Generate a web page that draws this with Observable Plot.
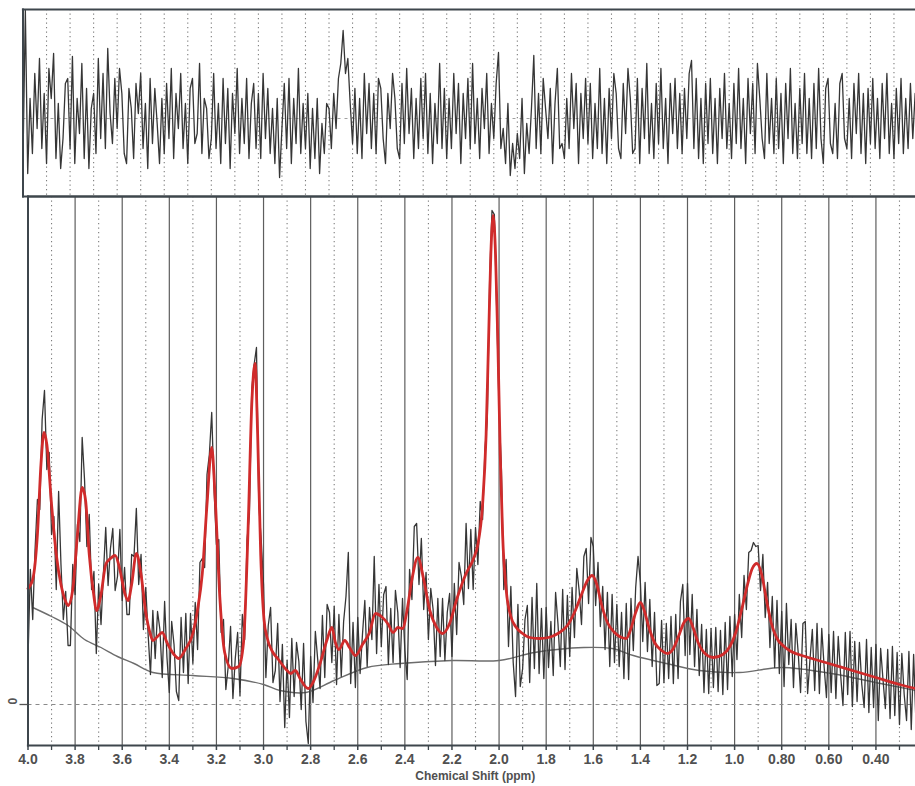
<!DOCTYPE html>
<html>
<head>
<meta charset="utf-8">
<script src="https://cdn.jsdelivr.net/npm/d3@7"></script>
<script src="https://cdn.jsdelivr.net/npm/@observablehq/plot@0.6"></script>
<style>
html, body { margin: 0; padding: 0; background: #fff; }
#chart { position: relative; width: 915px; height: 786px; overflow: hidden; font-family: "Liberation Sans", Arial, sans-serif; }
#bottomPanel, #topPanel { position: absolute; left: 0; }
#topPanel { top: 0; }
#bottomPanel { top: 196px; }
</style>
</head>
<body>
<div id="chart"><div id="bottomPanel"></div><div id="topPanel"></div></div>
<script>
// ---------- data ----------
const ppmStart = 4.0;
const ppmStep = 0.01;

const majorTicks = [4.0, 3.8, 3.6, 3.4, 3.2, 3.0, 2.8, 2.6, 2.4, 2.2, 2.0, 1.8, 1.6, 1.4, 1.2, 1.0, 0.8, 0.6, 0.4];
const tickLabels = ["4.0", "3.8", "3.6", "3.4", "3.2", "3.0", "2.8", "2.6", "2.4", "2.2", "2.0", "1.8", "1.6", "1.4", "1.2", "1.0", "0.80", "0.60", "0.40"];
const minorTicks = [3.9, 3.7, 3.5, 3.3, 3.1, 2.9, 2.7, 2.5, 2.3, 2.1, 1.9, 1.7, 1.5, 1.3, 1.1, 0.9, 0.7, 0.5, 0.3];
const zeroLine = [0];
const axisTitle = ["Chemical Shift (ppm)"];

// LCModel fit (red)
const fitPpm = [4.00,3.98,3.96,3.945,3.932,3.92,3.90,3.88,3.86,3.84,
  3.83,3.81,3.79,3.77,3.755,3.74,3.72,3.71,3.69,3.67,
  3.65,3.63,3.61,3.59,3.575,3.56,3.54,3.52,3.50,3.48,
  3.47,3.45,3.43,3.41,3.38,3.36,3.33,3.30,3.28,3.26,
  3.24,3.22,3.205,3.185,3.165,3.135,3.105,3.085,3.065,3.05,
  3.036,3.025,3.012,2.998,2.985,2.96,2.94,2.90,2.885,2.865,
  2.845,2.81,2.79,2.76,2.73,2.71,2.695,2.68,2.655,2.635,
  2.61,2.58,2.55,2.525,2.50,2.47,2.45,2.43,2.41,2.39,
  2.37,2.345,2.32,2.295,2.265,2.24,2.21,2.18,2.14,2.11,
  2.09,2.07,2.055,2.045,2.035,2.025,2.015,2.005,1.995,1.985,
  1.97,1.95,1.93,1.90,1.87,1.83,1.79,1.75,1.71,1.68,
  1.65,1.625,1.605,1.585,1.565,1.54,1.51,1.48,1.46,1.44,
  1.42,1.40,1.385,1.365,1.34,1.31,1.285,1.26,1.235,1.215,
  1.195,1.175,1.155,1.13,1.09,1.05,1.02,0.995,0.97,0.945,
  0.925,0.905,0.885,0.865,0.845,0.82,0.79,0.76,0.70,0.60,
  0.50,0.40,0.30,0.232];
const fitValue = [116,125,170,240,272,260,200,150,120,103,
  99,115,170,217,203,150,108,94,110,140,
  146,149,135,112,104,120,151,130,92,70,
  64,68,72,62,50,46,56,71,95,131,
  200,257,205,105,52,36,38,62,180,300,
  341,270,150,85,67,52,46,34,31,34,
  26,16,22,41,65,77,62,55,64,57,
  49,60,72,91,88,80,72,77,76,95,
  125,147,125,95,77,71,81,105,131,145,
  160,200,270,360,450,489,450,360,250,170,
  115,88,78,71,67,66,67,71,79,92,
  110,124,129,120,100,82,72,67,66,76,
  92,102,95,78,62,54,51,56,70,82,
  86,76,62,52,47,50,58,72,95,120,
  136,141,130,105,82,66,58,53,48,41,
  34,27,20,16];

// baseline (gray)
const baselinePpm = [3.98,3.90,3.83,3.76,3.69,3.62,3.55,3.47,3.30,3.13,
  3.00,2.93,2.82,2.70,2.56,2.42,2.20,2.00,1.85,1.64,
  1.52,1.43,1.29,1.15,0.98,0.80,0.59,0.38,0.232];
const baselineValue = [97,88,79,65,57,48,41,32,29,26,
  20,14,12,24,37,41,44,44,52,57,
  56,49,41,34,32,37,31,21,14];

// measured spectrum (dark), one value every 0.01 ppm from 4.00 down to 0.23
const spectrum = [
  46,135,85,155,205,195,285,314,235,252,
  170,188,115,213,140,85,113,59,59,140,
  110,180,163,267,225,158,190,115,133,51,
  120,80,130,177,119,156,176,114,128,175,
  104,137,90,90,150,148,196,120,150,75,
  117,70,30,94,46,93,75,27,103,47,
  12,83,60,13,4,87,32,91,21,91,
  41,102,55,142,146,137,230,250,292,215,
  160,165,72,85,15,38,78,6,46,72,
  9,90,65,165,190,315,340,357,200,165,
  120,27,79,97,22,34,81,3,60,-23,
  44,-13,66,8,62,43,-5,61,-17,-39,
  48,2,73,45,16,89,27,100,92,42,
  98,20,90,28,83,108,152,21,82,17,
  87,31,70,104,38,97,65,148,51,120,
  58,110,118,40,96,42,114,92,37,106,
  54,25,135,105,178,181,120,166,95,132,
  65,116,95,39,106,48,106,44,92,111,
  48,121,70,142,128,100,181,116,175,115,
  177,140,203,185,255,285,425,494,490,395,
  295,235,115,145,58,118,42,8,100,18,
  36,85,99,22,107,36,121,31,96,26,
  97,37,83,29,112,81,38,115,35,109,
  48,117,67,136,114,80,148,156,101,167,
  158,99,142,78,118,55,112,38,110,42,
  100,38,92,26,101,25,106,54,117,148,
  122,63,122,53,105,38,92,19,21,84,
  22,81,26,88,21,90,26,103,120,49,
  121,50,110,38,95,29,80,12,75,11,
  76,17,77,13,74,10,82,15,88,28,
  90,45,110,67,129,95,152,154,162,158,
  159,114,150,87,122,57,108,37,104,31,
  93,18,101,40,85,17,81,52,12,81,
  83,11,45,75,14,81,11,76,38,7,
  70,12,73,6,68,30,-1,72,10,73,
  -2,63,3,62,20,-3,65,-8,57,-3,
  60,-16,56,25,-4,55,-14,58,-11,52,
  -20,51,10,-16,53,-25,50,-19];

// residual (top panel), one value every 0.01 ppm from 4.00 down to 0.21
const residual = [
  -40,108,-55,20,-35,45,-10,60,-30,25,
  -45,50,20,65,-40,15,-50,-20,35,40,
  -30,62,-45,20,-15,55,-40,30,-50,10,
  25,-35,60,-20,45,-30,70,5,-25,40,
  -10,50,25,-35,-45,30,10,-40,35,5,
  45,-30,15,-50,40,-25,30,-5,-45,20,
  -35,35,-20,50,-40,25,-10,45,-30,15,
  -45,30,40,-25,-15,55,-35,20,10,-40,
  -20,45,-30,15,-45,40,-25,30,-50,25,
  -15,50,-35,20,-25,40,-40,15,35,-30,
  25,-40,45,-20,30,-35,10,-45,20,-59,
  -10,35,-30,40,-45,20,-25,50,-35,15,
  -30,25,-50,10,-40,20,-55,-5,-35,15,
  10,-30,25,-10,40,55,88,45,60,15,
  -25,30,-35,20,-40,45,-15,35,-30,25,
  -35,40,30,-20,-45,25,-10,45,20,-30,
  -40,35,-25,50,-15,30,-40,20,-30,40,
  -20,45,-35,25,-45,15,-25,55,-30,30,
  -40,20,-30,45,-15,35,-45,25,-20,40,
  -30,55,-25,20,-40,30,-10,45,-35,15,
  -20,35,66,-30,-10,-45,15,-57,-25,-50,
  -15,-40,20,-55,-5,-35,10,63,-30,25,
  -35,40,10,-20,30,-45,15,50,-30,-25,
  -40,20,-30,45,-10,35,-45,25,-20,40,
  -25,35,-40,15,-30,50,-35,20,-45,30,
  -20,45,25,-30,-40,35,-15,50,20,-35,
  -30,40,-45,30,-20,55,-35,15,-40,35,
  -25,50,-30,20,-45,35,-15,40,-30,25,
  -35,30,-20,45,58,-30,40,-40,20,-45,
  35,-25,40,-35,20,-45,30,-20,45,-30,
  15,-40,35,-25,50,-30,20,-45,40,-15,
  35,-35,55,20,-20,-40,45,-25,20,-35,
  40,-30,25,-45,35,-20,50,-35,15,-40,
  30,-25,45,-35,20,-40,35,-30,50,-20,
  -45,30,40,-25,-35,15,-40,35,45,-20,
  -30,20,-40,35,-15,45,-35,25,-45,30,
  -25,40,-30,20,-40,35,-20,45,-35,15,
  -40,30,-25,40,-35,20,-30,35,-20,25];

// scale domains
const xDomainBottom = [4.0, 0.232];
const yDomainBottom = [-41, 508];
const xDomainTop = [4.0, 0.2085];
const yDomainTop = [-78, 109];

// ---------- build records ----------
const fitData = fitPpm.map((p, i) => ({ppm: p, v: fitValue[i]}));
const baseData = baselinePpm.map((p, i) => ({ppm: p, v: baselineValue[i]}));
const specData = spectrum.map((v, i) => ({ppm: +(ppmStart - i * ppmStep).toFixed(3), v}));
const residData = residual.map((v, i) => ({ppm: +(ppmStart - i * ppmStep).toFixed(3), v}));
const topGrid = [...majorTicks.slice(1), ...minorTicks];

const frameColor = "#3e464c";
const fontStack = "'Liberation Sans', Arial, sans-serif";

// ---------- bottom panel ----------
const bottomPlot = Plot.plot({
  width: 915,
  height: 590,
  marginLeft: 27.5,
  marginRight: 0,
  marginTop: 0,
  marginBottom: 41,
  style: {background: "transparent", fontFamily: fontStack, overflow: "visible"},
  x: {domain: xDomainBottom, axis: null, label: null},
  y: {domain: yDomainBottom, axis: null, label: null},
  marks: [
    Plot.ruleX(minorTicks, {stroke: "#7c7c7c", strokeWidth: 1.1, strokeDasharray: "1.3,3.2"}),
    Plot.ruleX(majorTicks.slice(1), {stroke: "#5e5e5e", strokeWidth: 1.2}),
    Plot.ruleY(zeroLine, {stroke: "#8a8a8a", strokeWidth: 1, strokeDasharray: "4,4"}),
    Plot.line(baseData, {x: "ppm", y: "v", curve: "catmull-rom", stroke: "#6c6c6c", strokeWidth: 1.4}),
    Plot.line(specData, {x: "ppm", y: "v", stroke: "#363636", strokeWidth: 1.3}),
    Plot.line(fitData, {x: "ppm", y: "v", curve: "monotone-x", stroke: "#d02b2b", strokeWidth: 2.8}),
    Plot.frame({anchor: "top", stroke: frameColor, strokeWidth: 2}),
    Plot.frame({anchor: "left", stroke: frameColor, strokeWidth: 2}),
    Plot.frame({anchor: "bottom", stroke: frameColor, strokeWidth: 2.2}),
    Plot.axisX(minorTicks, {anchor: "bottom", tickSize: 5, tickFormat: () => "", stroke: frameColor, strokeWidth: 1.3}),
    Plot.axisX(majorTicks, {anchor: "bottom", tickSize: 5, tickPadding: 4, stroke: frameColor, strokeWidth: 1.5,
      fill: "#505050", fontSize: 14, fontWeight: "bold", label: null,
      tickFormat: d => tickLabels[majorTicks.indexOf(d)]}),
    Plot.axisY(zeroLine, {anchor: "left", tickSize: 8, tickFormat: () => "", stroke: "#555", strokeWidth: 1.3}),
    Plot.text(zeroLine, {y: d => d, text: () => "0", frameAnchor: "left", dx: -15, rotate: -90,
      fontSize: 12, fill: "#555", fontWeight: "bold"}),
    Plot.text(axisTitle, {text: d => d, frameAnchor: "bottom", dy: 34, dx: 3.5,
      fontSize: 12, fontWeight: "bold", fill: "#505050"})
  ]
});
document.getElementById("bottomPanel").append(bottomPlot);

// ---------- top (residual) panel ----------
const topPlot = Plot.plot({
  width: 915,
  height: 197,
  marginLeft: 22.5,
  marginRight: 0,
  marginTop: 9,
  marginBottom: 1,
  style: {background: "transparent", fontFamily: fontStack, overflow: "visible"},
  x: {domain: xDomainTop, axis: null, label: null},
  y: {domain: yDomainTop, axis: null, label: null},
  marks: [
    Plot.ruleX(topGrid, {stroke: "#7c7c7c", strokeWidth: 1.1, strokeDasharray: "1.3,3.2"}),
    Plot.ruleY(zeroLine, {stroke: "#a0a0a0", strokeWidth: 1, strokeDasharray: "3,4"}),
    Plot.line(residData, {x: "ppm", y: "v", stroke: "#363636", strokeWidth: 1.3}),
    Plot.frame({anchor: "top", stroke: frameColor, strokeWidth: 2.2}),
    Plot.frame({anchor: "left", stroke: frameColor, strokeWidth: 2}),
    Plot.frame({anchor: "bottom", stroke: frameColor, strokeWidth: 2})
  ]
});
document.getElementById("topPanel").append(topPlot);
</script>
</body>
</html>
